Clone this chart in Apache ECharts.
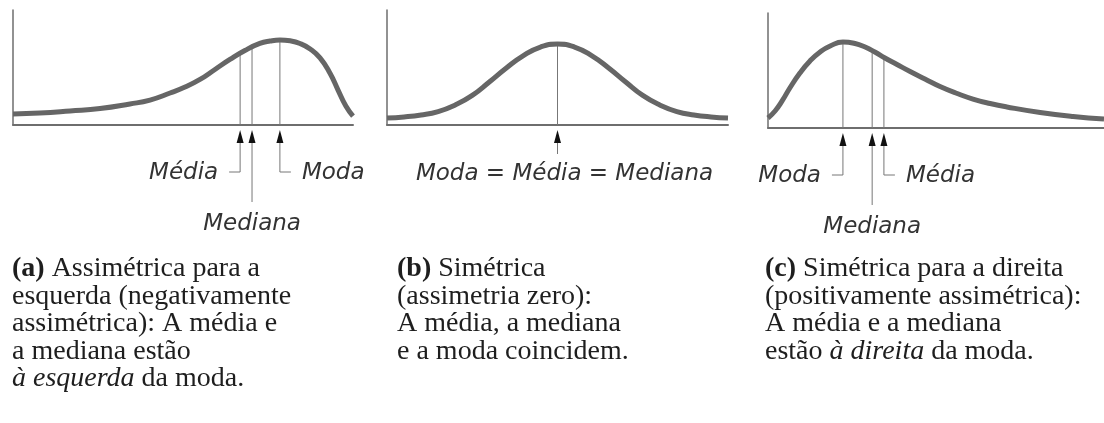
<!DOCTYPE html>
<html>
	<head>
		<meta charset="UTF-8">
		<title>Assimetria</title>
		<script src="https://cdn.jsdelivr.net/npm/echarts@6/dist/echarts.min.js"></script>
		<style>
			html, body { margin: 0; padding: 0; background: #fff; }
			#chart { width: 1104px; height: 423px; }
		</style>
	</head>
	<body>
		<div id="chart"></div>
		<script>
			// (a) assimétrica à esquerda - curva
			var xA = [0, 7.9, 16.8, 25.6, 34.4, 40.3, 46.2, 50.6, 55, 59.4, 63.8, 68.2, 72.6, 75.6, 78.5, 81.5, 84.4, 87.4, 90.3, 93.2, 95.6, 97.9, 100];
			var yA = [9.6, 10.4, 12.2, 14.3, 18.3, 21.7, 27.8, 33, 39.6, 48.3, 57, 64.8, 70.9, 73, 73.9, 73.2, 70.9, 66.1, 58.3, 45.2, 30.4, 16.5, 7.8];
			var markXA = [66.8, 70.3, 78.5];
			var markYA = [62.3, 67.5, 73.9];
			var markNameA = ['Média', 'Mediana', 'Moda'];
			var markKindA = ['left', 'down', 'right'];

			// (b) simétrica
			var xB = [0, 5, 10, 15, 20, 25, 30, 35, 40, 45, 50, 55, 60, 65, 70, 75, 80, 85, 90, 95, 100];
			var yB = [6.1, 7, 8.7, 11.7, 17.4, 25.7, 37.4, 49.6, 60.4, 67.8, 70.4, 67.8, 60.4, 49.6, 37.4, 25.7, 17.4, 11.7, 8.7, 7, 6.1];
			var markXB = [50];
			var markYB = [70.4];
			var markNameB = ['Moda = Média = Mediana'];
			var markKindB = ['center'];

			// (c) assimétrica à direita
			var xC = [0, 2.1, 4.2, 6.5, 9.5, 12.5, 15.5, 18.5, 22.3, 25.9, 28.9, 31.8, 34.8, 38.4, 42.3, 46.7, 51.2, 56.3, 61, 66.1, 71.1, 81, 90.8, 100];
			var yC = [8.7, 14.8, 23.5, 34.8, 47.8, 58.3, 66.1, 71.3, 74.8, 73.5, 70.4, 66.1, 60.9, 55.2, 49.1, 42.6, 36.1, 30, 25.2, 21.3, 18.3, 13.5, 10, 7.8];
			var markXC = [22.3, 31, 34.5];
			var markYC = [74.8, 67.4, 61.4];
			var markNameC = ['Moda', 'Mediana', 'Média'];
			var markKindC = ['left', 'down', 'right'];

			// legendas
			var captionA = '{b|(a)} Assimétrica para a\nesquerda (negativamente\nassimétrica): A média e\na mediana estão\n{i|à esquerda} da moda.';
			var captionB = '{b|(b)} Simétrica\n(assimetria zero):\nA média, a mediana\ne a moda coincidem.';
			var captionC = '{b|(c)} Simétrica para a direita\n(positivamente assimétrica):\nA média e a mediana\nestão {i|à direita} da moda.';

			var panels = [
				{ xs: xA, ys: yA, mx: markXA, my: markYA, names: markNameA, kinds: markKindA,
				  grid: { left: 13, top: 10, width: 340, height: 115 }, caption: captionA, capLeft: 12 },
				{ xs: xB, ys: yB, mx: markXB, my: markYB, names: markNameB, kinds: markKindB,
				  grid: { left: 387, top: 10, width: 341, height: 115 }, caption: captionB, capLeft: 397 },
				{ xs: xC, ys: yC, mx: markXC, my: markYC, names: markNameC, kinds: markKindC,
				  grid: { left: 768, top: 13, width: 336, height: 115 }, caption: captionC, capLeft: 765 }
			];

			var labelFont = 'italic 23px "DejaVu Sans"';
			var serif = 'Liberation Serif';
			var capColor = '#1e1e1e';
			var capSize = 28;

			// setas, linhas verticais e rótulos
			function makeRender(p) {
				return function(params, api) {
					var i = params.dataIndex;
					var top = api.coord([api.value(0), api.value(1)]);
					var base = api.coord([api.value(0), 0]);
					var x = base[0], y0 = base[1];
					var kind = p.kinds[i];
					var name = p.names[i];
					var thin = { stroke: '#777', lineWidth: 1, fill: 'none' };
					var kids = [
						{ type: 'line', shape: { x1: x, y1: top[1], x2: x, y2: y0 }, style: thin },
						{ type: 'polygon', shape: { points: [[x, y0 + 5], [x - 3.5, y0 + 18], [x + 3.5, y0 + 18]] },
						  style: { fill: '#111' } }
					];
					if (kind == 'left' || kind == 'right') {
						var dir = kind == 'left' ? -1 : 1;
						kids.push({ type: 'polyline', shape: { points: [[x, y0 + 18], [x, y0 + 47], [x + dir * 11, y0 + 47]] }, style: thin });
						kids.push({ type: 'text', style: { text: name, x: x + dir * 22, y: y0 + 48, font: labelFont, fill: '#333',
							align: kind == 'left' ? 'right' : 'left', verticalAlign: 'middle' } });
					} else if (kind == 'down') {
						kids.push({ type: 'line', shape: { x1: x, y1: y0 + 18, x2: x, y2: y0 + 77 }, style: thin });
						kids.push({ type: 'text', style: { text: name, x: x, y: y0 + 99, font: labelFont, fill: '#333',
							align: 'center', verticalAlign: 'middle' } });
					} else {
						kids.push({ type: 'line', shape: { x1: x, y1: y0 + 18, x2: x, y2: y0 + 29 }, style: thin });
						kids.push({ type: 'text', style: { text: name, x: x + 7, y: y0 + 49, font: labelFont, fill: '#333',
							align: 'center', verticalAlign: 'middle' } });
					}
					return { type: 'group', children: kids };
				};
			}

			var option = { animation: false, backgroundColor: '#fff', grid: [], xAxis: [], yAxis: [], series: [], title: [] };

			panels.forEach(function(p, k) {
				option.grid.push(p.grid);
				option.xAxis.push({
					type: 'value', gridIndex: k, min: 0, max: 100,
					axisLine: { show: true, onZero: false, lineStyle: { color: '#6e6e6e', width: 2 } },
					axisTick: { show: false }, axisLabel: { show: false }, splitLine: { show: false }
				});
				option.yAxis.push({
					type: 'value', gridIndex: k, min: 0, max: 100,
					axisLine: { show: true, onZero: false, lineStyle: { color: '#6e6e6e', width: 1.5 } },
					axisTick: { show: false }, axisLabel: { show: false }, splitLine: { show: false }
				});
				var curve = [];
				for (var j = 0; j < p.xs.length; j++) {
					curve.push([p.xs[j], p.ys[j]]);
				}
				var marks = [];
				for (var m = 0; m < p.mx.length; m++) {
					marks.push([p.mx[m], p.my[m]]);
				}
				option.series.push({
					type: 'custom', xAxisIndex: k, yAxisIndex: k, clip: false, z: 1,
					data: marks, renderItem: makeRender(p)
				});
				option.series.push({
					type: 'line', xAxisIndex: k, yAxisIndex: k, smooth: 0.5, symbol: 'none', z: 3,
					lineStyle: { color: '#666', width: 5 }, data: curve
				});
				// texto da legenda de cada painel
				option.title.push({
					text: p.caption, left: p.capLeft, top: 255, padding: 0,
					textStyle: {
						fontFamily: serif, fontSize: capSize, fontWeight: 'normal', color: capColor, lineHeight: 27.5,
						rich: {
							b: { fontFamily: serif, fontSize: capSize, fontWeight: 'bold', color: capColor, lineHeight: 27.5 },
							i: { fontFamily: serif, fontSize: capSize, fontStyle: 'italic', color: capColor, lineHeight: 27.5 }
						}
					}
				});
			});

			var myChart = echarts.init(document.getElementById('chart'));
			myChart.setOption(option);
		</script>
	</body>
</html>
